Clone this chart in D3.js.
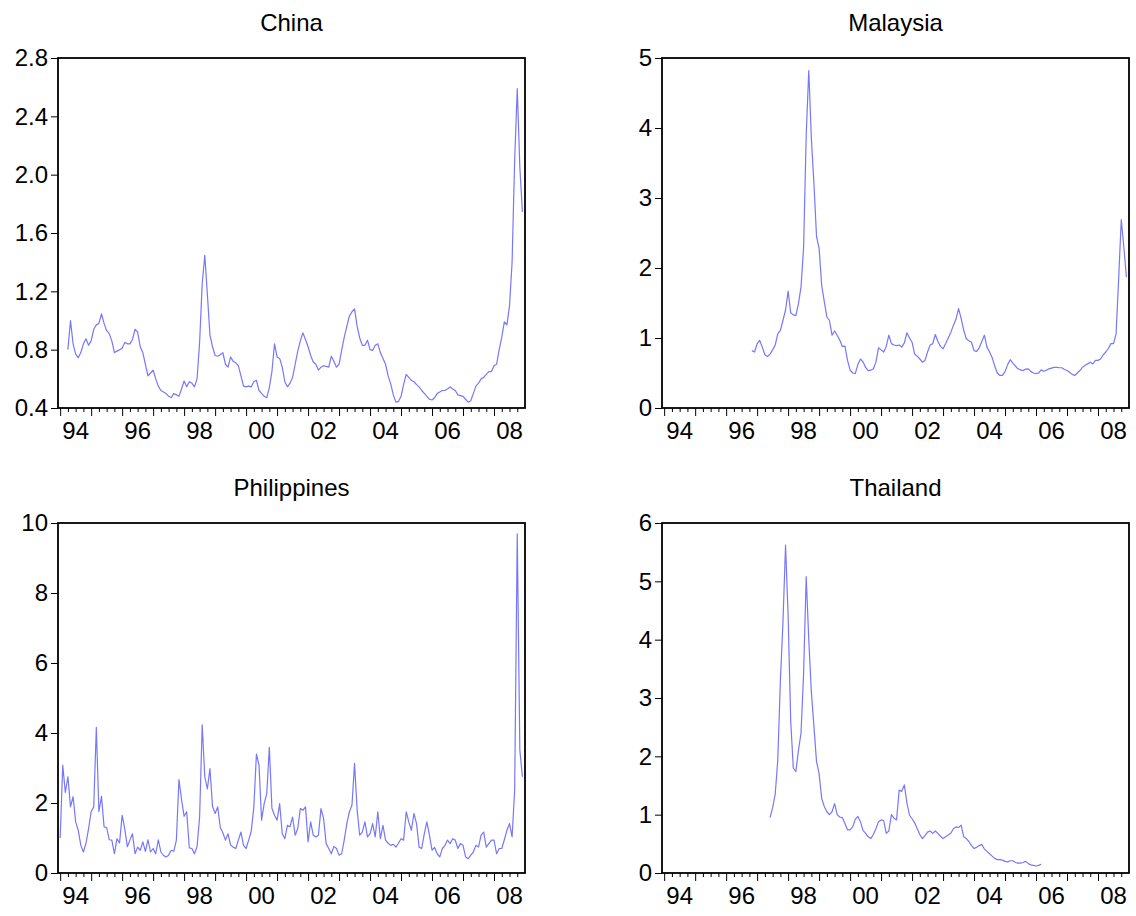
<!DOCTYPE html>
<html>
<head>
<meta charset="utf-8">
<script src="https://cdn.jsdelivr.net/npm/d3@7"></script>
<style>
  html, body { margin: 0; padding: 0; background: #fff; }
  svg { display: block; }
  text { font-family: "Liberation Sans", Arial, Helvetica, sans-serif; fill: #000; }
</style>
</head>
<body>
<svg id="chart" width="1136" height="916"></svg>
<script>
// ---------------- DATA (monthly observations) ----------------
const panelTitles = ["China", "Malaysia", "Philippines", "Thailand"];

// first observation: [year, month]
const chinaStart = [1994, 4];
const malaysiaStart = [1996, 11];
const philippinesStart = [1994, 1];
const thailandStart = [1997, 6];

const chinaValues = [
  0.80,1.00,0.84,0.77,0.745,0.78,0.84,0.875,0.83,
  0.86,0.94,0.97,0.98,1.045,0.98,0.93,0.91,0.86,0.78,0.79,0.80,
  0.81,0.85,0.84,0.84,0.87,0.94,0.92,0.82,0.78,0.70,0.62,0.64,
  0.66,0.60,0.55,0.52,0.51,0.50,0.48,0.47,0.50,0.49,0.48,0.53,
  0.585,0.545,0.58,0.57,0.545,0.60,0.85,1.25,1.447,1.18,0.90,0.82,
  0.76,0.755,0.765,0.78,0.70,0.68,0.75,0.72,0.71,0.69,0.62,0.55,
  0.545,0.55,0.545,0.58,0.59,0.52,0.50,0.48,0.47,0.54,0.65,0.84,
  0.75,0.74,0.68,0.58,0.545,0.57,0.61,0.70,0.79,0.86,0.915,0.87,
  0.82,0.76,0.715,0.70,0.66,0.68,0.69,0.685,0.68,0.755,0.72,0.68,
  0.70,0.795,0.885,0.96,1.03,1.06,1.08,0.96,0.88,0.83,0.83,0.865,
  0.80,0.795,0.83,0.84,0.78,0.74,0.70,0.62,0.565,0.49,0.44,0.445,
  0.48,0.56,0.63,0.61,0.59,0.58,0.56,0.545,0.52,0.50,0.48,0.46,
  0.455,0.47,0.50,0.51,0.52,0.52,0.53,0.545,0.53,0.52,0.49,0.485,
  0.48,0.46,0.44,0.45,0.50,0.55,0.57,0.60,0.61,0.63,0.65,0.65,
  0.69,0.70,0.80,0.885,0.99,0.97,1.10,1.40,2.10,2.59,2.05,1.745
];

const malaysiaValues = [
  0.82,0.80,
  0.92,0.965,0.87,0.76,0.735,0.77,0.83,0.90,1.06,1.11,1.25,1.40,
  1.67,1.36,1.33,1.32,1.49,1.73,2.30,3.90,4.82,3.85,3.20,2.45,
  2.28,1.75,1.52,1.30,1.25,1.04,1.10,1.04,0.97,0.88,0.885,0.68,
  0.54,0.50,0.49,0.62,0.70,0.66,0.58,0.535,0.54,0.56,0.655,0.86,
  0.83,0.80,0.88,1.04,0.92,0.90,0.89,0.90,0.87,0.93,1.075,1.00,
  0.94,0.77,0.74,0.70,0.655,0.68,0.80,0.90,0.92,1.05,0.95,0.88,
  0.845,0.92,1.00,1.08,1.18,1.27,1.42,1.28,1.11,0.99,0.96,0.94,
  0.82,0.81,0.86,0.95,1.04,0.87,0.80,0.72,0.60,0.50,0.465,0.465,
  0.52,0.62,0.69,0.64,0.60,0.56,0.545,0.535,0.555,0.56,0.52,0.50,
  0.49,0.50,0.545,0.525,0.54,0.56,0.57,0.58,0.58,0.575,0.575,0.55,
  0.535,0.51,0.48,0.465,0.50,0.535,0.58,0.61,0.63,0.655,0.63,0.68,
  0.68,0.70,0.76,0.80,0.85,0.92,0.92,1.06,1.85,2.69,2.30,1.87
];

const philippinesValues = [
  1.00,3.08,2.30,2.75,1.89,2.18,1.46,1.22,0.79,0.60,0.85,1.27,1.75,1.89,4.16,
  1.75,2.19,1.32,1.30,0.95,0.94,0.55,0.98,0.86,1.65,
  1.27,0.75,0.94,1.12,0.55,0.74,0.65,0.89,0.62,0.95,0.60,0.70,0.55,0.95,0.60,0.50,0.46,0.51,0.65,0.62,0.94,
  2.67,2.10,1.62,1.75,0.72,0.70,0.55,0.75,1.60,4.23,
  2.75,2.40,2.98,1.90,1.70,1.89,1.30,1.15,0.94,1.12,0.80,0.74,0.70,0.94,1.17,0.79,0.70,0.94,1.20,1.89,3.40,
  3.08,1.51,1.98,2.27,3.59,1.85,1.65,1.51,1.98,1.12,0.98,1.36,1.32,1.60,1.08,1.27,1.84,1.79,1.89,0.89,
  1.46,1.08,1.03,1.08,1.84,1.56,0.84,0.70,0.55,0.76,0.70,0.51,0.55,0.94,1.41,1.75,1.94,3.13,1.79,1.08,
  1.17,1.46,1.03,1.12,1.41,1.03,1.75,0.98,1.36,0.94,0.85,0.79,0.82,0.74,0.85,0.98,0.94,1.75,1.46,1.22,
  1.70,1.41,0.74,0.70,1.12,1.46,1.08,0.65,0.73,0.55,0.46,0.70,0.79,0.94,0.84,0.98,0.94,0.70,0.84,0.79,
  0.46,0.41,0.51,0.60,0.79,0.74,1.08,1.17,0.74,0.84,0.94,0.94,0.55,0.70,0.70,0.95,1.22,1.41,1.03,2.37,
  9.69,3.51,2.75
];

const thailandValues = [
  0.95,1.12,1.35,1.94,3.30,4.30,5.62,4.41,2.60,1.80,1.74,2.10,2.40,3.43,5.08,
  4.00,3.10,2.51,1.91,1.70,1.28,1.14,1.05,1.00,1.05,1.19,1.00,0.96,0.95,0.85,
  0.74,0.74,0.79,0.92,0.97,0.88,0.73,0.68,0.62,0.59,0.66,0.76,0.88,0.91,0.90,
  0.68,0.72,1.00,0.94,0.91,1.42,1.40,1.51,1.20,0.99,0.93,0.86,0.76,0.66,0.59,
  0.64,0.70,0.72,0.68,0.72,0.68,0.63,0.59,0.62,0.65,0.68,0.76,0.79,0.78,0.82,
  0.62,0.59,0.54,0.47,0.42,0.44,0.47,0.49,0.41,0.37,0.33,0.29,0.25,0.23,0.23,
  0.22,0.20,0.19,0.21,0.21,0.18,0.17,0.17,0.18,0.20,0.16,0.14,0.13,0.12,0.13,
  0.15
];

// axis definitions
const chinaTicks = [0.4, 0.8, 1.2, 1.6, 2.0, 2.4, 2.8];
const malaysiaTicks = [0, 1, 2, 3, 4, 5];
const philippinesTicks = [0, 2, 4, 6, 8, 10];
const thailandTicks = [0, 1, 2, 3, 4, 5, 6];
const yearLabels = ["94", "96", "98", "00", "02", "04", "06", "08"];
const labelYears = [1994, 1996, 1998, 2000, 2002, 2004, 2006, 2008];
const timeDomain = [1993.93, 2009.0];

// ---------------- LAYOUT ----------------
const panels = [
  { title: panelTitles[0], values: chinaValues, start: chinaStart, ticks: chinaTicks, fmt: ".1f",
    x0: 58, x1: 525, y0: 58, y1: 408 },
  { title: panelTitles[1], values: malaysiaValues, start: malaysiaStart, ticks: malaysiaTicks, fmt: "d",
    x0: 662, x1: 1129, y0: 58, y1: 408 },
  { title: panelTitles[2], values: philippinesValues, start: philippinesStart, ticks: philippinesTicks, fmt: "d",
    x0: 58, x1: 525, y0: 523, y1: 873 },
  { title: panelTitles[3], values: thailandValues, start: thailandStart, ticks: thailandTicks, fmt: "d",
    x0: 662, x1: 1129, y0: 523, y1: 873 }
];

const svg = d3.select("#chart");
const lineColor = "#7777fb";
const fontSize = 24;

panels.forEach(p => {
  const x = d3.scaleLinear().domain(timeDomain).range([p.x0, p.x1]);
  const yExt = d3.extent(p.ticks);
  const y = d3.scaleLinear().domain(yExt).range([p.y1, p.y0]);

  const data = p.values.map((v, i) => ({
    t: p.start[0] + (p.start[1] - 1 + i) / 12,
    v: v
  }));

  const g = svg.append("g");

  // title
  g.append("text")
    .attr("x", (p.x0 + p.x1) / 2)
    .attr("y", p.y0 - 27)
    .attr("text-anchor", "middle")
    .style("font-size", fontSize + "px")
    .text(p.title);

  // line
  const line = d3.line().x(d => x(d.t)).y(d => y(d.v));
  g.append("path")
    .datum(data)
    .attr("fill", "none")
    .attr("stroke", lineColor)
    .attr("stroke-width", 1.2)
    .attr("stroke-linejoin", "round")
    .attr("d", line);

  // y axis
  const yAxis = d3.axisLeft(y)
    .tickValues(p.ticks)
    .tickSize(7)
    .tickPadding(3)
    .tickFormat(d3.format(p.fmt));
  const ya = g.append("g")
    .attr("transform", `translate(${p.x0},0)`)
    .call(yAxis);
  ya.select(".domain").remove();
  ya.selectAll("text").style("font-size", fontSize + "px")
    .style("font-family", '"Liberation Sans", Arial, sans-serif').attr("fill", "#000");
  ya.selectAll("line").attr("stroke", "#000");

  // x axis: quarterly minor ticks, yearly major ticks
  const minorTicks = d3.range(1994, 2009, 0.25)
    .filter(t => Math.abs(t - Math.round(t)) > 1e-6);
  const majorTicks = d3.range(1994, 2009, 1);

  const xMinor = d3.axisBottom(x).tickValues(minorTicks).tickSize(4).tickFormat("");
  const xMajor = d3.axisBottom(x).tickValues(majorTicks).tickSize(8).tickFormat("");
  const xa1 = g.append("g").attr("transform", `translate(0,${p.y1})`).call(xMinor);
  const xa2 = g.append("g").attr("transform", `translate(0,${p.y1})`).call(xMajor);
  xa1.select(".domain").remove();
  xa2.select(".domain").remove();
  xa1.selectAll("line").attr("stroke", "#000");
  xa2.selectAll("line").attr("stroke", "#000");

  // year labels centered on mid-year
  g.selectAll(".ylab")
    .data(labelYears)
    .enter().append("text")
    .attr("x", d => x(d + 0.5))
    .attr("y", p.y1 + 31)
    .attr("text-anchor", "middle")
    .style("font-size", fontSize + "px")
    .text((d, i) => yearLabels[i]);

  // frame
  g.append("rect")
    .attr("x", p.x0)
    .attr("y", p.y0)
    .attr("width", p.x1 - p.x0)
    .attr("height", p.y1 - p.y0)
    .attr("fill", "none")
    .attr("stroke", "#000")
    .attr("stroke-width", 1.8);
});
</script>
</body>
</html>
